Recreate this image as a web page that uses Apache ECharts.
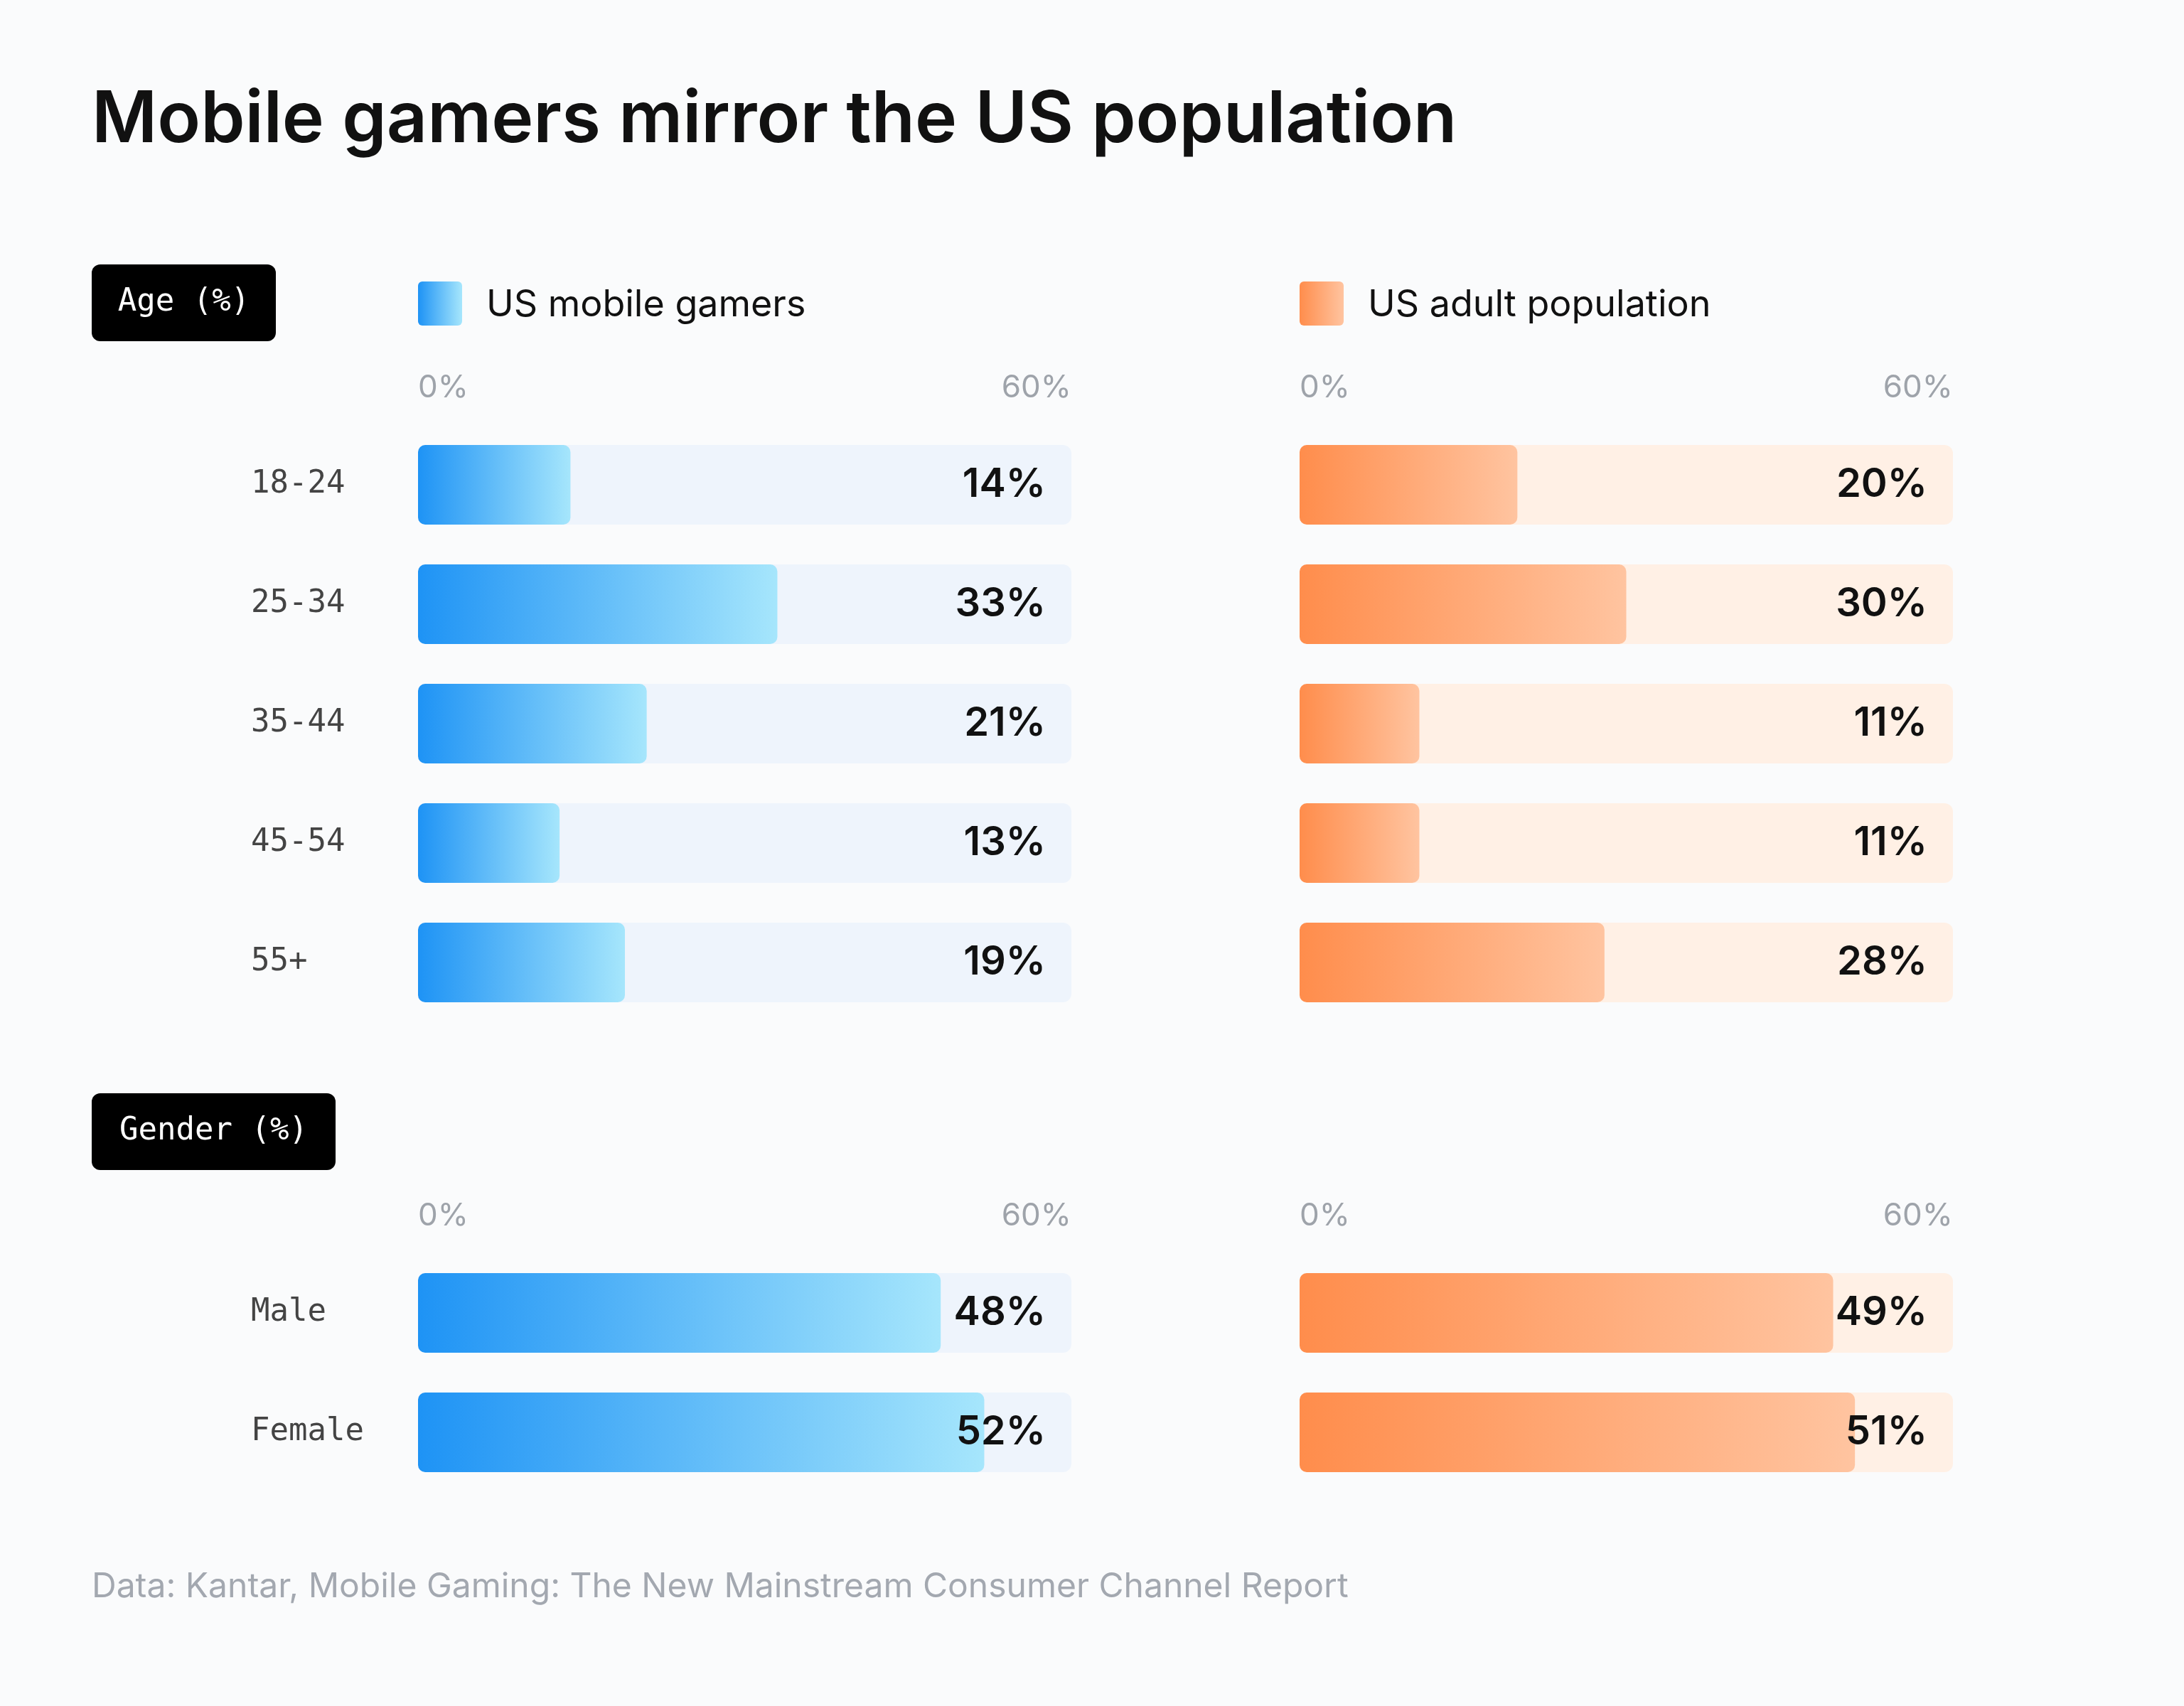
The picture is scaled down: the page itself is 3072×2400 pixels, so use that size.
<!DOCTYPE html>
<html><head><meta charset="utf-8">
<script src="https://cdn.jsdelivr.net/npm/echarts@6/dist/echarts.min.js"></script>
<style>html,body{margin:0;background:#fafbfc}#c{width:3072px;height:2400px}</style>
</head><body><div id="c"></div>
<script>
const ageCats = ['18-24','25-34','35-44','45-54','55+'];
const ageGamers = [14,33,21,13,19];
const ageAdults = [20,30,11,11,28];
const genderCats = ['Male','Female'];
const genderGamers = [48,52];
const genderAdults = [49,51];
const axisTicks = [0,60];

const blueGrad = new echarts.graphic.LinearGradient(0,0,1,0,[{offset:0,color:'#1e93f5'},{offset:1,color:'#a6e6fc'}]);
const orangeGrad = new echarts.graphic.LinearGradient(0,0,1,0,[{offset:0,color:'#ff8d4c'},{offset:1,color:'#ffc4a0'}]);
const mono = '"DejaVu Sans Mono", monospace';
const sans = 'Inter, "Noto Sans", sans-serif';

const grids=[], xAxes=[], yAxes=[], series=[];
function panel(left, top, cats, vals, grad, track, showCats){
  const i = grids.length;
  grids.push({left, top, width:919, height:cats.length*168});
  xAxes.push({gridIndex:i, type:'value', position:'top', min:axisTicks[0], max:axisTicks[1], interval:60,
    axisLine:{show:false}, axisTick:{show:false}, splitLine:{show:false},
    axisLabel:{margin:30, fontSize:44, color:'#9ea3aa', fontFamily:sans, formatter:v=>v+'%', alignMinLabel:'left', alignMaxLabel:'right'}});
  yAxes.push({gridIndex:i, type:'category', data:cats, inverse:true,
    axisLine:{show:false}, axisTick:{show:false},
    axisLabel:{show:showCats, align:'left', margin:235, fontSize:44, color:'#444', fontFamily:mono}});
  series.push({type:'bar', xAxisIndex:i, yAxisIndex:i, data:cats.map(()=>60), barWidth:112, barGap:'-100%',
    itemStyle:{color:track, borderRadius:12}, silent:true, z:1});
  series.push({type:'bar', xAxisIndex:i, yAxisIndex:i, data:vals, barWidth:112, barGap:'-100%',
    itemStyle:{color:grad, borderRadius:10}, z:2});
  series.push({type:'bar', xAxisIndex:i, yAxisIndex:i, data:cats.map(()=>60), barWidth:112, barGap:'-100%',
    itemStyle:{color:'rgba(0,0,0,0)'}, z:3, silent:true,
    label:{show:true, position:'insideRight', distance:36, fontSize:56, fontWeight:600, color:'#111', fontFamily:sans,
      formatter:p=>vals[p.dataIndex]+'%'}});
}
panel(588, 598, ageCats, ageGamers, blueGrad, '#eef4fc', true);
panel(1828, 598, ageCats, ageAdults, orangeGrad, '#fff0e5', false);
panel(588, 1763, genderCats, genderGamers, blueGrad, '#eef4fc', true);
panel(1828, 1763, genderCats, genderAdults, orangeGrad, '#fff0e5', false);

function tag(x,y,w,text){
  return {type:'group', left:x, top:y, children:[
    {type:'rect', shape:{x:0,y:0,width:w,height:108,r:12}, style:{fill:'#000'}},
    {type:'text', x:w/2, y:54, style:{text, fill:'#fff', font:'500 44px '+mono, align:'center', verticalAlign:'middle'}}
  ]};
}
const chart = echarts.init(document.getElementById('c'));
chart.setOption({
  backgroundColor:'#fafbfc', animation:false,
  grid:grids, xAxis:xAxes, yAxis:yAxes, series,
  graphic:[
    {type:'text', left:129, top:120, style:{text:'Mobile gamers mirror the US population', fill:'#111', font:'600 100px '+sans}},
    tag(129,372,259,'Age (%)'),
    tag(129,1538,343,'Gender (%)'),
    {type:'rect', shape:{x:588,y:396,width:62,height:62,r:6}, style:{fill:blueGrad}},
    {type:'text', x:684, y:429, style:{text:'US mobile gamers', fill:'#111', font:'400 52px '+sans, verticalAlign:'middle'}},
    {type:'rect', shape:{x:1828,y:396,width:62,height:62,r:6}, style:{fill:orangeGrad}},
    {type:'text', x:1924, y:429, style:{text:'US adult population', fill:'#111', font:'400 52px '+sans, verticalAlign:'middle'}},
    {type:'text', x:129, y:2233, style:{text:'Data: Kantar, Mobile Gaming: The New Mainstream Consumer Channel Report', fill:'#a3a8b0', font:'400 48px '+sans, verticalAlign:'middle'}}
  ]
});
</script></body></html>
